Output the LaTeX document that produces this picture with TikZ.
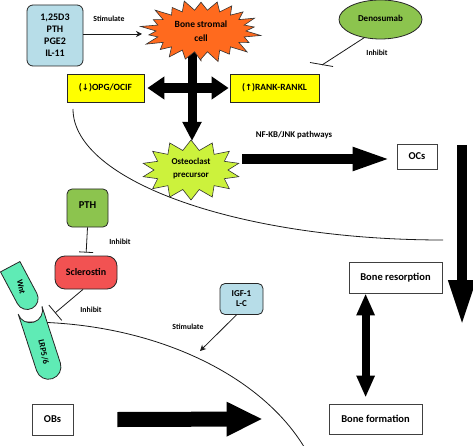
\documentclass[tikz,border=0pt]{standalone}
\usepackage{fontspec}
\usepackage{graphicx}
\setmainfont{Carlito}
\newfontfamily\symfont{DejaVu Sans}
\usetikzlibrary{arrows.meta,shapes.misc,shapes.geometric,calc}
\definecolor{cBlue}{HTML}{B7DDE8}
\definecolor{cOrange}{HTML}{FF6A1E}
\definecolor{cGreen}{HTML}{8CC44E}
\definecolor{cYellow}{HTML}{FFFF00}
\definecolor{cLime}{HTML}{CCF23C}
\definecolor{cRed}{HTML}{F25252}
\definecolor{cMint}{HTML}{5FEBB5}
\begin{document}
\begin{tikzpicture}[x=1pt,y=-1pt,
  bx/.style={draw=black!85, line width=0.8pt, align=center, inner sep=0pt},
  wbox/.style={bx, draw=black!75, fill=white, font=\bfseries\fontsize{10.5}{12}\selectfont},
  lbl/.style={font=\bfseries\fontsize{7.8}{9}\selectfont, inner sep=0pt},
  thinl/.style={line width=0.8pt, draw=black!90},
  stim/.style={thinl, -{Stealth[length=6pt,width=6pt]}},
  inh/.style={thinl, -{Bar[width=#1]}},
  starline/.style={draw=black!80, line width=0.6pt},
  mint/.style={draw=black!85, line width=0.8pt, fill=cMint, rounded rectangle, inner sep=0pt,
    font=\bfseries\fontsize{8.5}{10}\selectfont}
]
\useasboundingbox (0,0) rectangle (473,446);

% membranes
\draw[thinl] (73,109) .. controls (73,181) and (239,240) .. (443,240);
\begin{scope}
\clip (0,0) rectangle (473,446);
\draw[thinl] (26,322) .. controls (191.6,322) and (326,411.6) .. (326,522);
\end{scope}

% vertical cross arrow
\coordinate (vtop) at (192,50);
\coordinate (vtip) at (192,141);
\draw[line width=9pt, -{Triangle[length=19pt,width=18pt]}] (vtop) -- (vtip);

% bone stromal cell star
\filldraw[fill=cOrange, starline] plot[samples=45, domain=0:44, variable=\k]
  ({201+ifthenelse(mod(\k,2)==0,61*(0.93+0.07*sin(\k*97)),45)*cos(\k*360/44+90)},
   {31+ifthenelse(mod(\k,2)==0,32*(0.93+0.07*sin(\k*97)),21)*sin(\k*360/44+90)}) -- cycle;
\node[align=center, font=\bfseries\fontsize{9.5}{14}\selectfont] (stromal) at (201,31) {Bone stromal\\cell};

% osteoclast precursor star
\filldraw[fill=cLime, starline] plot[samples=29, domain=0:28, variable=\k]
  ({191+ifthenelse(mod(\k,2)==0,49,37)*cos(\k*360/28-90)},
   {170+ifthenelse(mod(\k,2)==0,30,20)*sin(\k*360/28-90)}) -- cycle;
\node[align=center, font=\bfseries\fontsize{9}{13}\selectfont] (ocp) at (191,168.5) {Osteoclast\\precursor};

% top-left blue box
\node[bx, fill=cBlue, rounded corners=6pt, minimum width=56pt, minimum height=61pt,
  font=\bfseries\fontsize{10}{12}\selectfont] (vit) at (55,35.5) {1,25D3\\PTH\\PGE2\\IL-11};
\coordinate (stimtip) at (142,34);
\draw[stim] (vit.east |- stimtip) -- (stimtip);
\node[lbl] (stim1) at (109,19) {Stimulate};

% Denosumab
\node[bx, ellipse, fill=cGreen, minimum width=83pt, minimum height=39pt,
  font=\bfseries\fontsize{9}{11}\selectfont] (deno) at (380.5,19.5) {\raisebox{3pt}{Denosumab}};
\coordinate (denoinh) at (322,65);
\draw[thinl] (deno.228) -- (denoinh);
\draw[thinl] ($(denoinh)+(-12,-2.5)$) -- ($(denoinh)+(11,1.5)$);
\node[lbl] (inhd) at (377,53) {Inhibit};

% yellow boxes
\node[bx, fill=cYellow, minimum width=77pt, minimum height=28pt,
  font=\bfseries\fontsize{9.5}{11}\selectfont] (opg) at (105.5,88) {({\symfont\bfseries\fontsize{8.5}{10}\selectfont ↓})OPG/OCIF};
\node[bx, fill=cYellow, minimum width=89pt, minimum height=28pt,
  font=\bfseries\fontsize{9.5}{11}\selectfont] (rank) at (274.5,88) {({\symfont\bfseries\fontsize{8.5}{10}\selectfont ↑})RANK-RANKL};
\draw[line width=10pt, {Triangle[length=17pt,width=22pt]}-{Triangle[length=17pt,width=22pt]}]
  ([xshift=3pt]opg.east) -- ([xshift=-1pt]rank.west);

% NF-KB arrow to OCs
\node[wbox, minimum width=40pt, minimum height=25pt] (ocs) at (417,156.5) {OCs};
\node[font=\bfseries\fontsize{8.8}{10}\selectfont, inner sep=0pt] (nf) at (294,135) {NF-KB/JNK pathways};
\coordinate (nfstart) at (242,159);
\draw[line width=10pt, -{Triangle[length=39pt,width=21pt]}] (nfstart) -- ([xshift=-5pt]ocs.west |- nfstart);

% big right down arrow
\coordinate (rtop) at (462,145);
\coordinate (rtip) at (462,326);
\draw[line width=10pt, -{Triangle[length=46pt,width=25pt]}] (rtop) -- (rtip);

% PTH and sclerostin
\node[bx, fill=cGreen, rounded corners=5pt, minimum width=41pt, minimum height=38pt,
  font=\bfseries\fontsize{10.5}{12}\selectfont] (pth) at (87.5,208) {\raisebox{5pt}{PTH}};
\node[bx, fill=cRed, rounded corners=10pt, minimum width=62pt, minimum height=33pt,
  font=\bfseries\fontsize{10}{12}\selectfont] (scl) at (86,272.5) {Sclerostin};
\draw[inh=14pt, shorten >=3pt] (pth.south) -- (scl.north);
\node[lbl] (inh2) at (120,242) {Inhibit};
\coordinate (sclinh) at (55,313);
\draw[inh=20pt] ([xshift=-3pt]scl.south) -- (sclinh);
\node[lbl] (inh3) at (91,310) {Inhibit};

% Wnt and LRP5/6
\node[mint, rounded rectangle left arc=none, rotate=-62, minimum width=47pt, minimum height=22pt] (wnt) at (21,287) {\rotatebox{-16}{Wnt}};
\node[mint, rounded rectangle left arc=concave, rotate=-72, minimum width=72pt, minimum height=25pt] (lrp) at (43,350) {\hspace{4pt}\rotatebox{-6}{LRP5/6}};

% IGF-1
\node[bx, fill=cBlue, rounded corners=5pt, minimum width=43pt, minimum height=31pt,
  font=\bfseries\fontsize{9}{10}\selectfont] (igf) at (241.5,299) {IGF-1\\L-C};
\coordinate (igftip) at (200,351);
\draw[stim] ([xshift=-5pt]igf.south) -- (igftip);
\node[lbl] (stim2) at (188,327) {Stimulate};

% bone resorption / formation / OBs
\node[wbox, minimum width=93pt, minimum height=31pt] (bres) at (395.5,277.5) {Bone resorption};
\node[wbox, minimum width=93pt, minimum height=30pt] (bform) at (375.5,419) {Bone formation};
\node[wbox, minimum width=41pt, minimum height=31pt] (obs) at (52.5,419.5) {OBs};
\draw[line width=8pt, {Triangle[length=22pt,width=17pt]}-{Triangle[length=22pt,width=17pt]}]
  ([xshift=37pt,yshift=6pt]bform.north west) -- ([xshift=17pt]bres.south west);
\draw[line width=15pt, -{Triangle[length=36pt,width=32pt]}]
  ([xshift=44pt]obs.east) -- ([xshift=-66pt]bform.west);
\end{tikzpicture}
\end{document}
